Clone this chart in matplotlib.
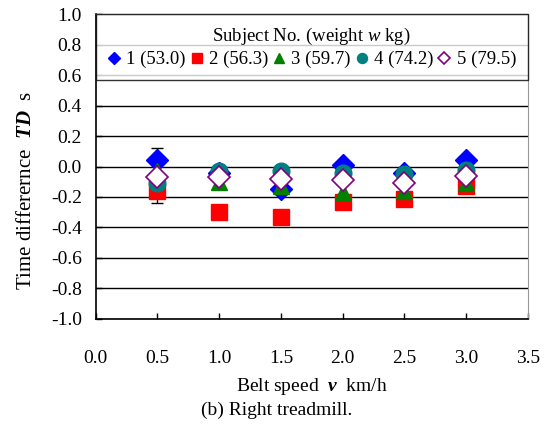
import matplotlib
matplotlib.use("Agg")
import matplotlib.pyplot as plt

plt.rcParams['font.family'] = ['Liberation Serif', 'DejaVu Serif']
plt.rcParams['mathtext.fontset'] = 'custom'
plt.rcParams['mathtext.rm'] = 'Liberation Serif'
plt.rcParams['mathtext.it'] = 'Liberation Serif:italic'
plt.rcParams['mathtext.bf'] = 'Liberation Serif:bold'
plt.rcParams['mathtext.bfit'] = 'Liberation Serif:bold:italic'

speed = [0.5, 1.0, 1.5, 2.0, 2.5, 3.0]
td_s1 = [0.04, -0.04, -0.15, 0.01, -0.04, 0.04]
td_s2 = [-0.16, -0.30, -0.33, -0.23, -0.21, -0.13]
td_s3 = [-0.03, -0.10, -0.13, -0.17, -0.16, -0.11]
td_s4 = [-0.11, -0.03, -0.03, -0.04, -0.05, -0.02]
td_s5 = [-0.07, -0.07, -0.08, -0.09, -0.11, -0.06]
labels = ['1 (53.0)', '2 (56.3)', '3 (59.7)', '4 (74.2)', '5 (79.5)']

err_x = [0.5]
err_mean = [-0.06]
err_sd = [0.18]

fig = plt.figure(figsize=(5.54, 4.26), dpi=100)
ax = fig.add_axes([0.1727, 0.2512, 0.78, 0.7159])

ax.errorbar(err_x, err_mean, yerr=err_sd, fmt='none', ecolor='black',
            elinewidth=1, capsize=4, capthick=1, zorder=2)

ax.plot(speed, td_s1, 'D', color='#0000ff', ms=11, label=labels[0], zorder=3)
ax.plot(speed, td_s2, 's', color='#ff0000', ms=12, label=labels[1], zorder=4)
ax.plot(speed, td_s3, '^', color='#008000', ms=12, label=labels[2], zorder=5)
ax.plot(speed, td_s4, 'o', color='#008080', ms=12, label=labels[3], zorder=6)
ax.plot(speed, td_s5, 'D', mfc='white', mec='#800080', mew=1.2, ms=11,
        label=labels[4], zorder=7)

ax.set_xlim(0, 3.5)
ax.set_ylim(-1.0, 1.0)
ax.set_xticks([0.0, 0.5, 1.0, 1.5, 2.0, 2.5, 3.0, 3.5])
ax.set_yticks([-1.0, -0.8, -0.6, -0.4, -0.2, 0.0, 0.2, 0.4, 0.6, 0.8, 1.0])
ax.xaxis.set_major_formatter(lambda v, p: f"{v:.1f}")
ax.yaxis.set_major_formatter(lambda v, p: f"{v:.1f}")
ax.tick_params(direction='in', length=4, labelsize=14, width=1)
ax.tick_params(axis='x', pad=22)
ax.tick_params(axis='y', pad=10)
ax.grid(axis='y', color='black', lw=1)
ax.set_axisbelow(True)
for s in ['right', 'top']:
    ax.spines[s].set_color('#999999')
for s in ['left', 'bottom']:
    ax.spines[s].set_color('black')
    ax.spines[s].set_linewidth(1.2)

ax.set_xlabel(r'Belt speed  $\mathbfit{v}$  km/h', fontsize=14, labelpad=7)
ax.set_ylabel(r'Time differernce  $\mathbfit{TD}$  s', fontsize=15)
ax.yaxis.set_label_coords(-0.137, 0.42)

leg = ax.legend(loc='upper left', bbox_to_anchor=(0, 1.0, 1.0, 0.0), mode='expand',
                ncol=5, title=r'Subject No. (weight $\mathit{w}$ kg)',
                fontsize=13.5, title_fontsize=13.5, markerscale=0.6,
                handlelength=0.7, handletextpad=0.3, columnspacing=0.2,
                borderpad=0.62, labelspacing=0.3, frameon=True, fancybox=False,
                borderaxespad=0)
leg.get_frame().set_edgecolor('black')
leg.get_frame().set_linewidth(1)
leg.set_zorder(10)
leg._legend_box.sep = 3

fig.text(0.5, 0.025, '(b) Right treadmill.', ha='center', fontsize=14)

fig.savefig('out.png', dpi=100)
